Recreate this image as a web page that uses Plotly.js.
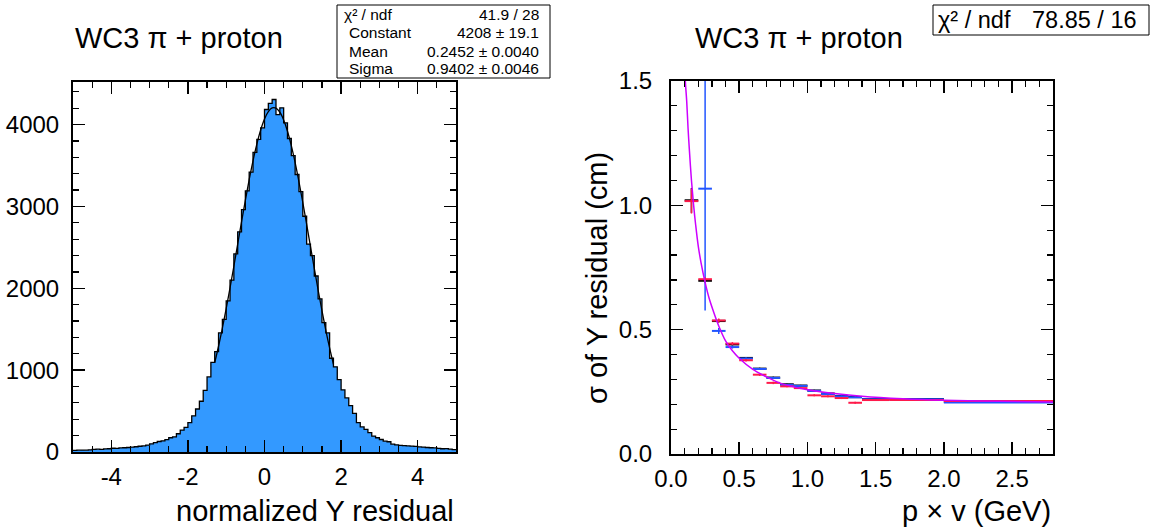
<!DOCTYPE html>
<html>
<head>
<meta charset="utf-8">
<script src="https://cdn.plot.ly/plotly-3.0.1.min.js"></script>
<style>html,body{margin:0;padding:0;background:#fff;}#chart{width:1155px;height:531px;}</style>
</head>
<body>
<div id="chart"></div>
<script>
// ---------- Left panel: histogram of normalized Y residual ----------
const histLow = -5, histHigh = 5, binWidth = 0.1;
const histCounts = [
  20, 22, 24, 22, 27, 32, 35, 33, 38, 40,
  46, 44, 50, 52, 55, 60, 64, 70, 74, 85,
  100, 115, 128, 136, 152, 174, 185, 223, 268, 300,
  360, 442, 525, 620, 752, 917, 1095, 1227, 1455, 1620,
  1847, 2100, 2420, 2690, 2960, 3190, 3420, 3660, 3820, 3960,
  4184, 4258, 4306, 4122, 4204, 4020, 3830, 3620, 3390, 3180,
  2880, 2540, 2400, 2150, 1870, 1580, 1455, 1145, 1040, 884,
  760, 661, 566, 471, 360, 306, 277, 236, 194, 174,
  153, 132, 125, 95, 88, 82, 78, 74, 72, 68,
  62, 60, 55, 52, 50, 45, 40, 42, 35, 30
];
const histTickVals = [-4, -2, 0, 2, 4];
const histTickText = ['-4', '-2', '0', '2', '4'];
// Gaussian fit curve
const fitX = [-1.3,-1.2,-1.1,-1.0,-0.9,-0.8,-0.7,-0.6,-0.5,-0.4,-0.3,-0.2,-0.1,0.0,0.1,0.2,0.3,0.4,0.5,0.6,0.7,0.8,0.9,1.0,1.1,1.2,1.3,1.4,1.5,1.6,1.7,1.8];
const fitY = [1091,1292,1513,1751,2005,2269,2540,2810,3074,3326,3557,3762,3934,4068,4158,4203,4201,4151,4056,3919,3743,3535,3301,3048,2783,2512,2242,1979,1727,1490,1271,1072];
const statLabels = ["χ² / ndf", "Constant", "Mean", "Sigma"];
const statValues = ["41.9 / 28", "4208 ± 19.1", "0.2452 ± 0.0040", "0.9402 ± 0.0046"];

// ---------- Right panel: sigma of Y residual vs p*v ----------
const blackX   = [0.15,0.25,0.35,0.45,0.55,0.65,0.75,0.85,0.95,1.05,1.15,1.25,1.35,1.7,2.4];
const blackHW  = [0.05,0.05,0.05,0.05,0.05,0.05,0.05,0.05,0.05,0.05,0.05,0.05,0.05,0.3,0.4];
const blackY   = [1.020,0.697,0.535,0.441,0.386,0.343,0.307,0.280,0.275,0.255,0.243,0.233,0.229,0.221,0.210];
const blackErr = [0.050,0.008,0.006,0.005,0.004,0.004,0.004,0.003,0.003,0.003,0.003,0.003,0.003,0.002,0.002];

const blueX   = [0.25,0.35,0.45,0.55,0.65,0.75,0.85,0.95,1.05,1.15,1.25,1.35,1.7,2.4];
const blueHW  = [0.05,0.05,0.05,0.05,0.05,0.05,0.05,0.05,0.05,0.05,0.05,0.05,0.3,0.4];
const blueY   = [1.067,0.495,0.430,0.384,0.342,0.306,0.278,0.274,0.254,0.241,0.232,0.228,0.220,0.207];
const blueErr = [0.490,0.012,0.006,0.005,0.004,0.004,0.004,0.003,0.003,0.003,0.003,0.003,0.002,0.002];

const redX   = [0.15,0.25,0.35,0.45,0.55,0.65,0.75,0.85,0.95,1.05,1.15,1.25,1.35,1.5,1.8,2.4];
const redHW  = [0.05,0.05,0.05,0.05,0.05,0.05,0.05,0.05,0.05,0.05,0.05,0.05,0.05,0.1,0.2,0.4];
const redY   = [1.017,0.703,0.537,0.444,0.377,0.319,0.286,0.272,0.265,0.236,0.232,0.225,0.206,0.217,0.217,0.213];
const redErr = [0.050,0.008,0.008,0.006,0.005,0.005,0.005,0.004,0.004,0.004,0.004,0.004,0.004,0.003,0.003,0.003];

const curveX = [0.100,0.105,0.115,0.125,0.135,0.150,0.165,0.180,0.200,0.220,0.250,0.280,0.310,0.350,0.400,0.450,0.500,0.600,0.700,0.800,0.900,1.000,1.200,1.400,1.700,2.000,2.400,2.800];
const curveY = [1.600,1.500,1.420,1.310,1.220,1.100,1.005,0.925,0.835,0.770,0.690,0.625,0.575,0.515,0.455,0.415,0.385,0.340,0.310,0.285,0.270,0.258,0.243,0.232,0.222,0.216,0.212,0.209];
const chi2Label = "χ² / ndf";
const chi2Value = "78.85 / 16";

// ---------- build ----------
const FONT = "Liberation Sans, Arial, Helvetica, sans-serif";
const W = 1155, H = 531;
const px = v => v / W;
const py = v => 1 - v / H;

const histEdges = histCounts.map((_, i) => histLow + i * binWidth);
histEdges.push(histHigh);
const histStepY = histCounts.concat([histCounts[histCounts.length - 1]]);

const traces = [
  { x: histEdges, y: histStepY, type: 'scatter', mode: 'lines',
    line: { shape: 'hv', color: '#000', width: 1.3 },
    fill: 'tozeroy', fillcolor: '#3399ff', xaxis: 'x', yaxis: 'y', hoverinfo: 'skip' },
  { x: fitX, y: fitY, type: 'scatter', mode: 'lines',
    line: { shape: 'spline', color: '#000', width: 1.3 }, xaxis: 'x', yaxis: 'y' }
];

function errSeries(xs, hw, ys, es, color, th) {
  return { x: xs, y: ys, type: 'scatter', mode: 'markers',
    marker: { size: 1, color: color },
    error_x: { type: 'data', array: hw, symmetric: true, color: color, thickness: th, width: 0 },
    error_y: { type: 'data', array: es, symmetric: true, color: color, thickness: 1.5, width: 0 },
    xaxis: 'x2', yaxis: 'y2', cliponaxis: true };
}
traces.push(errSeries(blackX, blackHW, blackY, blackErr, '#000000', 2.2));
traces.push(errSeries(blueX, blueHW, blueY, blueErr, '#2255ff', 2.0));
traces.push(errSeries(redX, redHW, redY, redErr, '#ff1a4a', 2.0));
traces.push({ x: curveX, y: curveY, type: 'scatter', mode: 'lines',
  line: { shape: 'spline', color: '#cc00ff', width: 1.5 }, xaxis: 'x2', yaxis: 'y2' });

const axBase = {
  showline: true, linecolor: '#000', linewidth: 2, mirror: 'allticks',
  ticks: 'inside', ticklen: 12, tickwidth: 1.5, tickcolor: '#000',
  showgrid: false, zeroline: false,
  tickfont: { family: FONT, size: 24, color: '#000' }, fixedrange: true
};
const minorBase = { ticks: 'inside', ticklen: 6, tickwidth: 1.2, tickcolor: '#000', showgrid: false };

const layout = {
  width: W, height: H, margin: { l: 0, r: 0, t: 0, b: 0 },
  paper_bgcolor: '#fff', plot_bgcolor: '#fff', showlegend: false,
  xaxis: Object.assign({}, axBase, { domain: [px(73), px(456)], range: [histLow, histHigh],
    tickmode: 'array', tickvals: histTickVals, ticktext: histTickText, anchor: 'y', ticklabelstandoff: 2,
    minor: Object.assign({ tickmode: 'linear', tick0: 0, dtick: 0.5 }, minorBase) }),
  yaxis: Object.assign({}, axBase, { domain: [py(452), py(82)], range: [0, 4520],
    tick0: 0, dtick: 1000, anchor: 'x', ticklabelstandoff: 7,
    minor: Object.assign({ dtick: 200 }, minorBase) }),
  xaxis2: Object.assign({}, axBase, { domain: [px(671), px(1053)], range: [0, 2.8],
    tick0: 0, dtick: 0.5, tickformat: '.1f', anchor: 'y2', ticklabelstandoff: 2,
    minor: Object.assign({ dtick: 0.1 }, minorBase) }),
  yaxis2: Object.assign({}, axBase, { domain: [py(454), py(81)], range: [0, 1.5],
    tick0: 0, dtick: 0.5, tickformat: '.1f', anchor: 'x2', ticklabelstandoff: 12,
    minor: Object.assign({ dtick: 0.1 }, minorBase) }),
  shapes: [
    { type: 'rect', xref: 'paper', yref: 'paper', x0: px(337), x1: px(550), y0: py(78), y1: py(5),
      line: { color: '#000', width: 1 }, fillcolor: '#fff' },
    { type: 'rect', xref: 'paper', yref: 'paper', x0: px(933), x1: px(1149), y0: py(35), y1: py(5),
      line: { color: '#000', width: 1 }, fillcolor: '#fff' }
  ],
  annotations: []
};

const A = layout.annotations;
function txt(text, x, y, size, xanchor, extra) {
  A.push(Object.assign({ text: text, xref: 'paper', yref: 'paper', x: px(x), y: py(y),
    xanchor: xanchor, yanchor: 'middle', showarrow: false,
    font: { family: FONT, size: size, color: '#000' } }, extra || {}));
}
txt('WC3 π + proton', 73, 38, 29, 'left');
txt('WC3 π + proton', 693, 38, 29, 'left');
txt('normalized Y residual', 456, 511, 29, 'right');
txt('p × v (GeV)', 1053, 511, 29, 'right');
txt('σ of Y residual (cm)', 597, 278, 29, 'center', { textangle: -90 });
const rowsY = [14, 33, 51, 68];
const labelX = [342, 347, 347, 347];
statLabels.forEach((t, i) => txt(t, labelX[i], rowsY[i], 15.5, 'left'));
statValues.forEach((t, i) => txt(t, 541, rowsY[i], 15.5, 'right'));
txt(chi2Label, 936, 20, 23.5, 'left');
txt(chi2Value, 1139, 20, 23.5, 'right');

Plotly.newPlot('chart', traces, layout, { staticPlot: true, displayModeBar: false });
</script>
</body>
</html>
